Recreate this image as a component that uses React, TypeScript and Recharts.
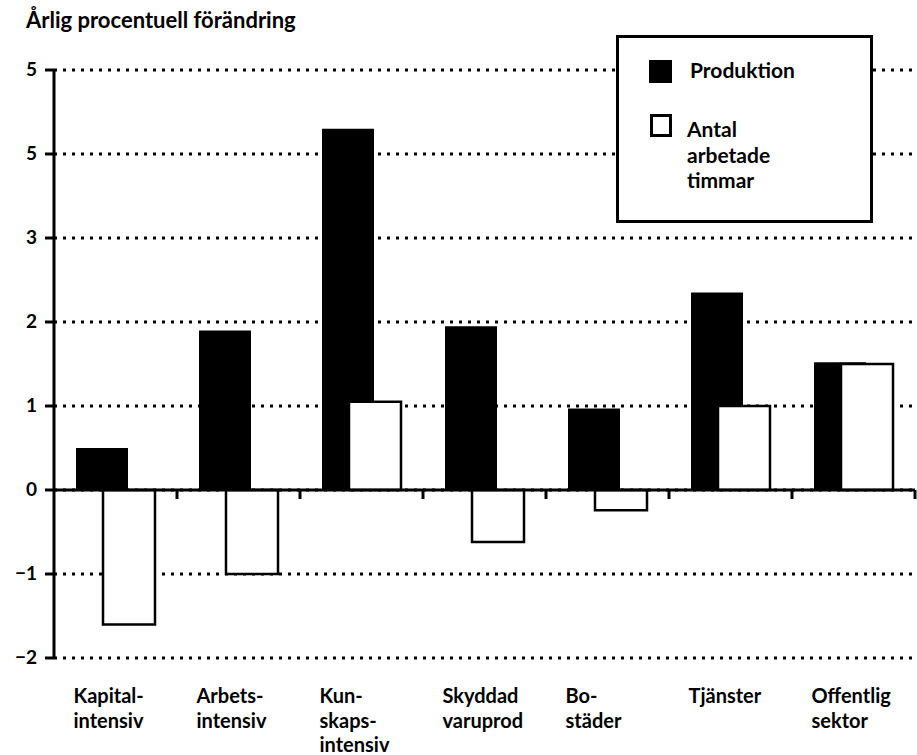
import { BarChart, Bar, XAxis, YAxis, CartesianGrid, ReferenceLine } from 'recharts'

const categories = [
  'Kapital-\nintensiv',
  'Arbets-\nintensiv',
  'Kun-\nskaps-\nintensiv',
  'Skyddad\nvaruprod',
  'Bo-\nstäder',
  'Tjänster',
  'Offentlig\nsektor',
]
const produktion = [0.5, 1.9, 4.3, 1.95, 0.97, 2.35, 1.52]
const timmar = [-1.6, -1.0, 1.05, -0.62, -0.24, 1.0, 1.5]

const yTicks = [-2, -1, 0, 1, 2, 3, 4, 5]
const yTickLabels = ['−2', '−1', '0', '1', '2', '3', '5', '5']

const data = categories.map((name, i) => ({
  name,
  produktion: produktion[i],
  timmar: timmar[i],
}))

const FONT = 'Lato, "DejaVu Sans", sans-serif'

const CategoryTick = ({ x, y, payload }: any) => {
  const lines = String(payload.value).split('\n')
  const left = x - 42
  return (
    <text x={left} y={y + 45} fontFamily={FONT} fontSize={20} fontWeight={700} fill="#000">
      {lines.map((line, i) => (
        <tspan key={i} x={left} dy={i === 0 ? 0 : 24.5}>
          {line}
        </tspan>
      ))}
    </text>
  )
}

const ValueTick = ({ x, y, payload }: any) => {
  const idx = yTicks.indexOf(payload.value)
  return (
    <text x={x} y={y} dy={6} textAnchor="end" fontFamily={FONT} fontSize={19} fontWeight={700} fill="#000">
      {yTickLabels[idx]}
    </text>
  )
}

// zero line with the small marks between categories
const ZeroLine = (props: any) => {
  const { x1, y1, x2, y2 } = props
  const n = categories.length
  const marks = Array.from({ length: n }, (_, i) => x1 + ((x2 - x1) * (i + 1)) / n)
  return (
    <g>
      <line x1={x1} y1={y1} x2={x2} y2={y2} stroke="#000" strokeWidth={3} />
      {marks.map((m, i) => (
        <line key={i} x1={m} x2={m} y1={y1} y2={y1 + 9} stroke="#000" strokeWidth={3} />
      ))}
    </g>
  )
}

export default function App() {
  return (
    <div style={{ position: 'absolute', left: 0, top: 0, width: 917, height: 755, background: '#fff', fontFamily: FONT }}>
      <div style={{ position: 'absolute', left: 26, top: 6, fontSize: 22, fontWeight: 700, color: '#000' }}>
        Årlig procentuell förändring
      </div>

      <BarChart
        width={917}
        height={755}
        data={data}
        margin={{ top: 70, right: 2, left: 0, bottom: 0 }}
        barGap={-25}
      >
        <CartesianGrid vertical={false} stroke="#000" strokeWidth={3} strokeDasharray="3 6" />
        <XAxis
          dataKey="name"
          axisLine={false}
          tickLine={false}
          tickSize={0}
          tickMargin={0}
          height={97}
          interval={0}
          tick={<CategoryTick />}
        />
        <YAxis
          domain={[-2, 5]}
          ticks={yTicks}
          width={54}
          axisLine={{ stroke: '#000', strokeWidth: 3 }}
          tickLine={{ stroke: '#000', strokeWidth: 3 }}
          tickSize={9}
          tickMargin={8}
          tick={<ValueTick />}
        />
        <Bar dataKey="produktion" fill="#000" barSize={52} isAnimationActive={false} />
        <Bar dataKey="timmar" fill="#fff" stroke="#000" strokeWidth={2.5} barSize={52} isAnimationActive={false} />
        <ReferenceLine y={0} shape={<ZeroLine />} />
      </BarChart>

      <div
        style={{
          position: 'absolute',
          left: 616,
          top: 35,
          width: 257,
          height: 188,
          boxSizing: 'border-box',
          border: '3px solid #000',
          background: '#fff',
          fontSize: 21,
          fontWeight: 700,
          color: '#000',
        }}
      >
        <div style={{ position: 'absolute', left: 30, top: 22, width: 23, height: 23, background: '#000' }} />
        <div style={{ position: 'absolute', left: 71, top: 19, lineHeight: '25.5px' }}>Produktion</div>
        <div
          style={{
            position: 'absolute',
            left: 31,
            top: 76,
            width: 22,
            height: 23,
            boxSizing: 'border-box',
            border: '3px solid #000',
          }}
        />
        <div style={{ position: 'absolute', left: 68, top: 78, lineHeight: '25.5px' }}>
          Antal
          <br />
          arbetade
          <br />
          timmar
        </div>
      </div>
    </div>
  )
}
